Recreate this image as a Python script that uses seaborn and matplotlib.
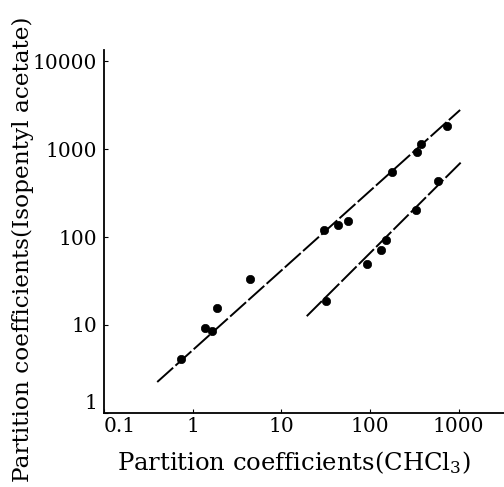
import matplotlib
matplotlib.use("Agg")
import matplotlib.pyplot as plt
import seaborn as sns
import pandas as pd

# upper series
upper_x = [0.75, 1.4, 1.64, 1.9, 4.5, 30, 44, 56, 178, 340, 380, 740]
upper_y = [4.1, 9.2, 8.5, 15.6, 33, 120, 137, 152, 550, 930, 1140, 1820]
# lower series
lower_x = [32, 92, 133, 152, 330, 590]
lower_y = [18.7, 50, 71, 93, 203, 435]
# fitted lines (end points)
upper_line_x = [0.40, 1040]
upper_line_y = [2.25, 2780]
lower_line_x = [19.4, 1070]
lower_line_y = [12.6, 710]

x_ticks = [0.1, 1, 10, 100, 1000]
x_tick_labels = ["0.1", "1", "10", "100", "1000"]
y_ticks = [1, 10, 100, 1000, 10000]
y_tick_labels = ["1", "10", "100", "1000", "10000"]

sns.set_style("ticks")
plt.rcParams["font.family"] = ["DejaVu Serif"]
plt.rcParams["mathtext.fontset"] = "dejavuserif"
plt.rcParams["text.color"] = "black"
plt.rcParams["axes.labelcolor"] = "black"
plt.rcParams["xtick.color"] = "black"
plt.rcParams["ytick.color"] = "black"

fig = plt.figure(figsize=(5.04, 4.87), dpi=100)
ax = fig.add_axes([0.206, 0.152, 0.794, 0.745])

pts = pd.DataFrame({"x": upper_x + lower_x, "y": upper_y + lower_y,
                    "s": ["upper"] * len(upper_x) + ["lower"] * len(lower_x)})
sns.scatterplot(data=pts, x="x", y="y", ax=ax, color="black", s=36,
                edgecolor="black", linewidth=0.5, legend=False, zorder=3)

for lx, ly in [(upper_line_x, upper_line_y), (lower_line_x, lower_line_y)]:
    df = pd.DataFrame({"x": lx, "y": ly})
    sns.lineplot(data=df, x="x", y="y", ax=ax, color="black", linewidth=1.4,
                 dashes=False, zorder=2)
    ax.lines[-1].set_dashes([11, 1.6])

ax.set_xscale("log")
ax.set_yscale("log")
ax.set_xlim(0.1, 3250)
ax.set_ylim(1, 13300)
ax.set_xticks(x_ticks)
ax.set_xticklabels(x_tick_labels)
ax.set_yticks(y_ticks)
ax.set_yticklabels(y_tick_labels)
ax.minorticks_off()
ax.tick_params(axis="both", direction="in", length=3, width=0.8,
               labelsize=14.5, colors="black", labelcolor="black")
ax.tick_params(axis="y", pad=5)
ax.tick_params(axis="x", pad=3)

# shift the corner labels as in the reference
ax.get_xticklabels()[0].set_horizontalalignment("left")
ax.get_yticklabels()[0].set_verticalalignment("bottom")

for s in ["top", "right"]:
    ax.spines[s].set_visible(False)
for s in ["left", "bottom"]:
    ax.spines[s].set_color("black")
    ax.spines[s].set_linewidth(1.3)

ax.set_xlabel(r"Partition coefficients(CHCl$_3$)", fontsize=17.5, va="center",
              color="black")
ax.xaxis.set_label_coords(0.475, -0.138)
ylab = ax.set_ylabel("Partition coefficients(Isopentyl acetate)", fontsize=15,
                     va="center", color="black")
ax.yaxis.set_label_coords(-0.2025, 0.45)

# fit the y label to the length it has in the reference (~470 px)
fig.canvas.draw()
h = ylab.get_window_extent().height
ylab.set_fontsize(15 * 470 / h)

fig.savefig("out.png", dpi=100, facecolor="white")
